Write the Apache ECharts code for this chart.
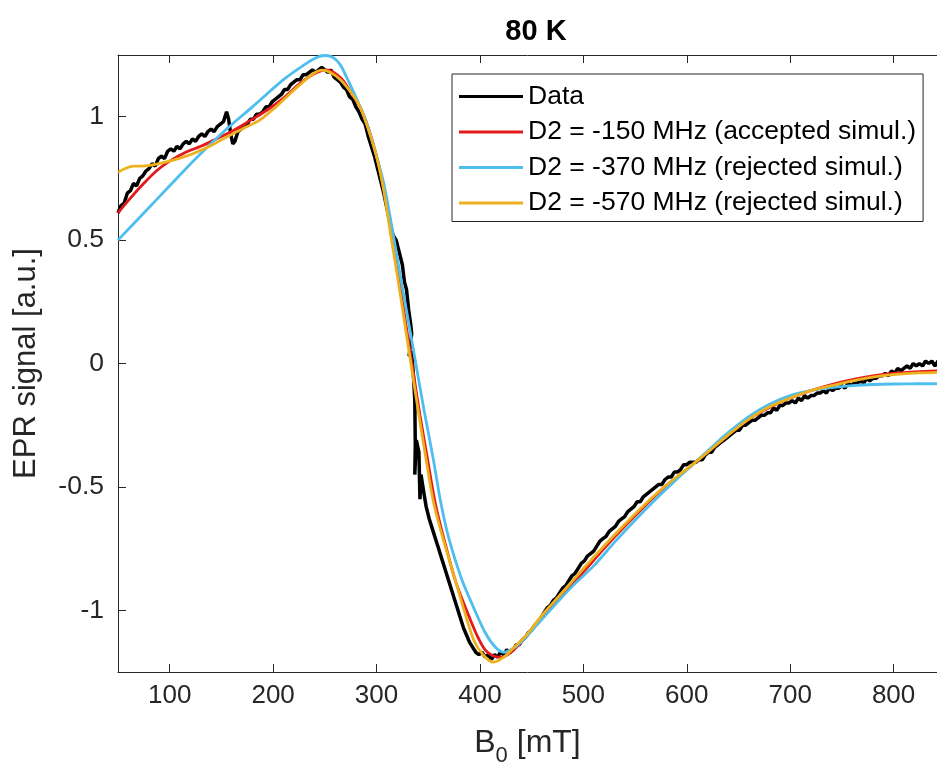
<!DOCTYPE html>
<html><head><meta charset="utf-8">
<script src="https://cdn.jsdelivr.net/npm/echarts@6/dist/echarts.min.js"></script>
<style>html,body{margin:0;padding:0;background:#fff}#c{width:937px;height:773px}</style>
</head><body><div id="c"></div>
<script>
const xTicks = [100, 200, 300, 400, 500, 600, 700, 800];
const yTicks = [-1, -0.5, 0, 0.5, 1];
const seriesNames = ['Data', 'D2 = -150 MHz (accepted simul.)', 'D2 = -370 MHz (rejected simul.)', 'D2 = -570 MHz (rejected simul.)'];

const dataField = [50,53,56,59,62,65,68,71,74,77,80,83,86,89,92,95,98,101,104,107,110,113,116,119,122,125,128,131,134,137,140,143,146,149,152,155,157,159,161,163,166,169,172,175,178,181,184,187,190,193,196,199,202,205,208,211,214,217,220,223,226,229,232,235,238,241,244,247,250,253,256,259,262,265,268,271,274,277,280,283,286,289,292,295,298,301,304,307,310,313,316,319,322,325,327,329,331,333,334,331.5,334,336,337,337.5,337,338.5,341,342,343,346,348,351,354,357,360,363,366,369,372,375,378,381,384,387,390,393,396,399,402,405,408,411,414,417,420,423,426,429,432,435,438,441,444,447,450,453,456,459,462,465,468,471,474,477,480,483,486,489,492,495,498,501,504,507,510,513,516,519,522,525,528,531,534,537,540,543,546,549,552,555,558,561,564,567,570,573,576,579,582,585,588,591,594,597,600,603,606,609,612,615,618,621,624,627,630,633,636,639,642,645,648,651,654,657,660,663,666,669,672,675,678,681,684,687,690,693,696,699,702,705,708,711,714,717,720,723,726,729,732,735,738,741,744,747,750,753,756,759,762,765,768,771,774,777,780,783,786,789,792,795,798,801,804,807,810,813,816,819,822,825,828,831,834,837,840,843,846,850];
const dataSignal = [0.61,0.64,0.65,0.69,0.70,0.73,0.72,0.75,0.76,0.78,0.79,0.81,0.80,0.83,0.84,0.83,0.86,0.87,0.86,0.88,0.87,0.89,0.90,0.89,0.91,0.90,0.92,0.93,0.92,0.94,0.95,0.94,0.96,0.97,0.98,1.02,0.99,0.93,0.89,0.90,0.94,0.95,0.96,0.97,0.99,0.99,1.01,1.01,1.02,1.04,1.04,1.06,1.07,1.08,1.09,1.11,1.11,1.13,1.14,1.15,1.15,1.17,1.17,1.18,1.19,1.18,1.19,1.20,1.19,1.18,1.19,1.16,1.15,1.14,1.12,1.11,1.08,1.07,1.04,1.02,0.99,0.97,0.92,0.88,0.84,0.79,0.74,0.69,0.63,0.57,0.52,0.50,0.45,0.40,0.33,0.30,0.22,0.16,0.12,0.03,0.05,-0.07,-0.15,-0.33,-0.45,-0.31,-0.36,-0.55,-0.45,-0.53,-0.58,-0.63,-0.67,-0.71,-0.75,-0.79,-0.83,-0.87,-0.91,-0.95,-0.99,-1.03,-1.07,-1.10,-1.13,-1.15,-1.17,-1.18,-1.17,-1.19,-1.18,-1.20,-1.18,-1.19,-1.17,-1.18,-1.16,-1.17,-1.16,-1.14,-1.14,-1.12,-1.11,-1.09,-1.08,-1.06,-1.05,-1.03,-1.01,-0.99,-0.98,-0.96,-0.95,-0.93,-0.91,-0.90,-0.88,-0.86,-0.85,-0.83,-0.81,-0.80,-0.78,-0.77,-0.76,-0.74,-0.72,-0.71,-0.70,-0.68,-0.67,-0.66,-0.64,-0.63,-0.62,-0.60,-0.59,-0.58,-0.56,-0.56,-0.54,-0.53,-0.52,-0.51,-0.50,-0.49,-0.49,-0.47,-0.46,-0.46,-0.44,-0.44,-0.43,-0.41,-0.41,-0.40,-0.40,-0.40,-0.39,-0.39,-0.37,-0.36,-0.36,-0.34,-0.33,-0.32,-0.31,-0.30,-0.29,-0.28,-0.27,-0.27,-0.25,-0.25,-0.24,-0.23,-0.23,-0.22,-0.21,-0.21,-0.20,-0.20,-0.18,-0.19,-0.17,-0.17,-0.16,-0.16,-0.15,-0.16,-0.14,-0.15,-0.13,-0.14,-0.13,-0.13,-0.12,-0.12,-0.11,-0.12,-0.10,-0.11,-0.10,-0.10,-0.09,-0.10,-0.08,-0.09,-0.08,-0.08,-0.07,-0.08,-0.06,-0.07,-0.06,-0.06,-0.05,-0.05,-0.04,-0.05,-0.03,-0.04,-0.02,-0.03,-0.02,-0.01,-0.02,0.00,-0.01,0.00,-0.01,0.01,0.00,0.01,-0.01,0.01,0.00,0.01];

const redField = [50,62,75,87,100,115,130,145,162,178,194,210,226,236,244,250,256,262,268,275,284,292,300,307,314,321,328,335,342,349,357,367,377,389,397,405,413,421,430,440,450,460,470,480,500,520,540,560,580,600,620,640,660,680,700,720,740,760,780,800,825,850];
const redSignal = [0.61,0.67,0.73,0.78,0.82,0.855,0.88,0.91,0.945,0.985,1.026,1.075,1.135,1.165,1.182,1.19,1.185,1.17,1.145,1.10,1.04,0.955,0.84,0.71,0.54,0.36,0.17,-0.02,-0.21,-0.38,-0.57,-0.74,-0.89,-1.02,-1.10,-1.16,-1.185,-1.19,-1.17,-1.13,-1.08,-1.03,-0.98,-0.935,-0.845,-0.75,-0.66,-0.575,-0.495,-0.43,-0.36,-0.29,-0.225,-0.178,-0.14,-0.11,-0.085,-0.065,-0.05,-0.04,-0.033,-0.028];

const blueField = [50,75,100,125,155,180,210,230,242,250,258,265,271,281,290,298,307,315,322,330,338,346,355,362,370,382,394,405,415,423,432,442,455,470,490,510,530,550,570,590,607,620,640,660,680,700,720,740,760,780,800,825,850];
const blueSignal = [0.50,0.61,0.72,0.83,0.95,1.04,1.15,1.21,1.24,1.248,1.24,1.21,1.16,1.07,0.98,0.87,0.73,0.55,0.38,0.19,0.0,-0.19,-0.39,-0.56,-0.71,-0.87,-0.99,-1.09,-1.15,-1.17,-1.155,-1.12,-1.06,-0.99,-0.90,-0.82,-0.725,-0.635,-0.55,-0.47,-0.405,-0.355,-0.28,-0.215,-0.165,-0.13,-0.11,-0.098,-0.09,-0.085,-0.083,-0.082,-0.082];

const yellowField = [50,57,65,73,81,97,110,123,140,155,170,187,200,213,226,239,247,255,265,275,284,292,300,307,313,320,327,334,341,348,355,365,375,384,394,403,413,423,433,445,460,477,495,510,530,550,570,590,607,620,640,660,680,700,720,740,760,780,800,825,850];
const yellowSignal = [0.775,0.79,0.80,0.80,0.803,0.817,0.832,0.851,0.883,0.918,0.95,0.986,1.03,1.08,1.13,1.175,1.189,1.18,1.15,1.10,1.04,0.95,0.84,0.70,0.54,0.36,0.17,-0.02,-0.21,-0.39,-0.56,-0.72,-0.86,-0.99,-1.12,-1.18,-1.21,-1.19,-1.15,-1.10,-1.02,-0.94,-0.855,-0.785,-0.695,-0.61,-0.53,-0.46,-0.405,-0.36,-0.29,-0.225,-0.175,-0.14,-0.11,-0.09,-0.07,-0.055,-0.045,-0.038,-0.035];

const zip = (a, b) => a.map((v, i) => [v, b[i]]);
const FONT = '"Liberation Sans", Arial, Helvetica, sans-serif';
const INK = '#262626';
const X_MIN = 50, X_MAX = 842;

const chart = echarts.init(document.getElementById('c'), null, {renderer: 'canvas'});
chart.setOption({
  animation: false,
  backgroundColor: '#fff',
  title: {
    text: '80 K', left: 531, top: 12, textAlign: 'center',
    textStyle: {fontFamily: FONT, fontSize: 29, fontWeight: 'bold', color: '#000'}
  },
  legend: {
    data: seriesNames, orient: 'vertical', left: 452, top: 74,
    icon: 'rect', itemWidth: 64, itemHeight: 3, itemGap: 8.5,
    padding: [9, 7, 5, 7],
    backgroundColor: '#fff', borderColor: INK, borderWidth: 1,
    textStyle: {fontFamily: FONT, fontSize: 26.5, color: '#000'}
  },
  grid: {left: 118, top: 55, right: 0, height: 617, containLabel: false},
  xAxis: [{
    type: 'value', min: X_MIN, max: X_MAX, position: 'bottom',
    name: '{n|B}{s|0}{n| [mT]}', nameLocation: 'middle', nameGap: 47,
    nameTextStyle: {rich: {
      n: {fontFamily: FONT, fontSize: 32, color: INK, lineHeight: 48, verticalAlign: 'middle'},
      s: {fontFamily: FONT, fontSize: 22, color: INK, lineHeight: 22, verticalAlign: 'bottom'}
    }},
    axisLine: {show: true, onZero: false, lineStyle: {color: INK, width: 1}},
    axisTick: {show: true, inside: true, length: 8, customValues: xTicks, lineStyle: {color: INK}},
    axisLabel: {show: true, customValues: xTicks, margin: 11, fontFamily: FONT, fontSize: 26, color: INK},
    splitLine: {show: false}
  }, {
    type: 'value', min: X_MIN, max: X_MAX, position: 'top',
    axisLine: {show: true, onZero: false, lineStyle: {color: INK, width: 1}},
    axisTick: {show: true, inside: true, length: 8, customValues: xTicks, lineStyle: {color: INK}},
    axisLabel: {show: false}, splitLine: {show: false}
  }],
  yAxis: [{
    type: 'value', min: -1.25, max: 1.25,
    name: 'EPR signal [a.u.]', nameLocation: 'middle', nameGap: 76,
    nameTextStyle: {fontFamily: FONT, fontSize: 31, color: INK},
    axisLine: {show: true, onZero: false, lineStyle: {color: INK, width: 1}},
    axisTick: {show: true, inside: true, length: 8, customValues: yTicks, lineStyle: {color: INK}},
    axisLabel: {show: true, customValues: yTicks, margin: 14, fontFamily: FONT, fontSize: 26.5, color: INK},
    splitLine: {show: false}
  }],
  series: [
    {name: seriesNames[0], type: 'line', data: zip(dataField, dataSignal), showSymbol: false, symbol: 'none',
     color: '#000', lineStyle: {color: '#000', width: 3.5}, z: 2},
    {name: seriesNames[1], type: 'line', data: zip(redField, redSignal), showSymbol: false, symbol: 'none', smooth: 0.3,
     color: '#E3191C', lineStyle: {color: '#E3191C', width: 2.8}, z: 3},
    {name: seriesNames[2], type: 'line', data: zip(blueField, blueSignal), showSymbol: false, symbol: 'none', smooth: 0.3,
     color: '#4DBEEE', lineStyle: {color: '#4DBEEE', width: 2.8}, z: 4},
    {name: seriesNames[3], type: 'line', data: zip(yellowField, yellowSignal), showSymbol: false, symbol: 'none', smooth: 0.3,
     color: '#EDB120', lineStyle: {color: '#EDB120', width: 2.8}, z: 5}
  ]
});
</script></body></html>
